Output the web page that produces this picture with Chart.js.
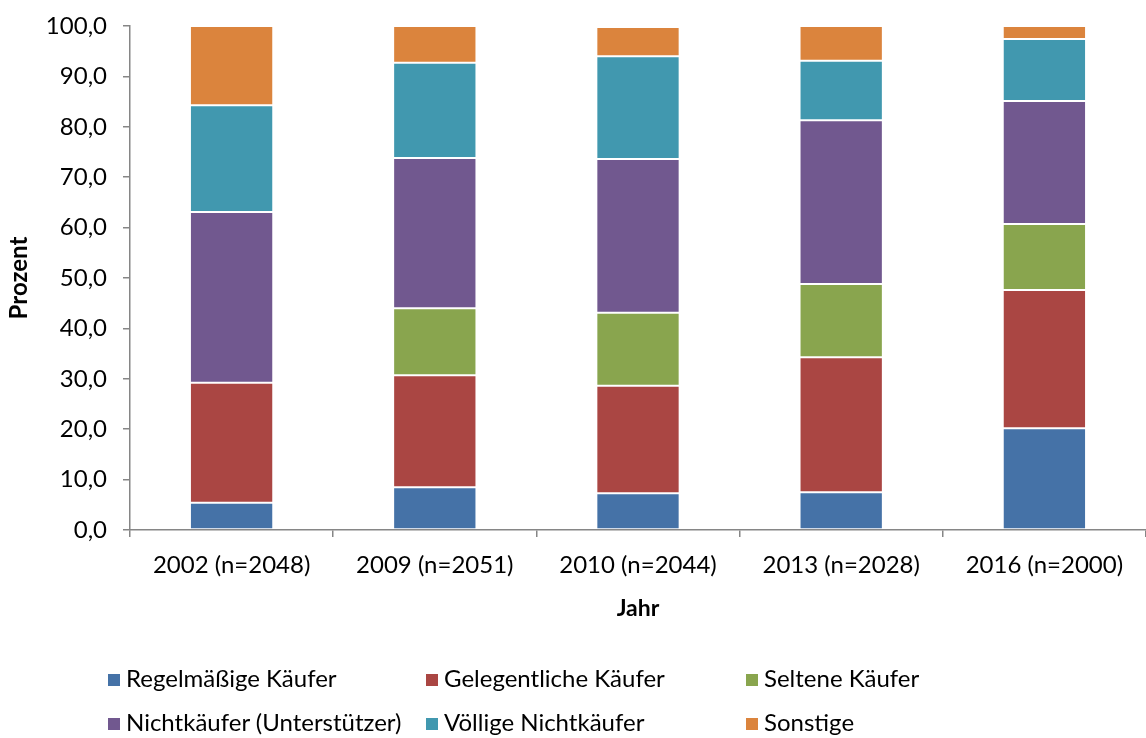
<!DOCTYPE html>
<html>
<head>
<meta charset="utf-8">
<script src="https://cdn.jsdelivr.net/npm/chart.js@4"></script>
<style>
  body { margin: 0; background: #fff; font-family: Lato, "Open Sans", sans-serif; }
  #wrap { position: relative; width: 1146px; height: 738px; }
  #chart-box { position: absolute; left: 0; top: 0; width: 1146px; height: 640px; }
  #legend { position: absolute; left: 0; top: 0; width: 1146px; height: 738px; pointer-events: none; }
  .item { position: absolute; font-size: 24px; color: #000; white-space: nowrap; line-height: 28px; }
  .item span.box { display: inline-block; width: 12px; height: 12px; margin-right: 6px; vertical-align: 1px; }
</style>
</head>
<body>
<div id="wrap">
  <div id="chart-box"><canvas id="kaeufer-chart"></canvas></div>
  <div id="legend"></div>
</div>
<script>
const years = ["2002 (n=2048)", "2009 (n=2051)", "2010 (n=2044)", "2013 (n=2028)", "2016 (n=2000)"];

const regelmaessig = [5.4, 8.5, 7.3, 7.5, 20.2];
const gelegentlich = [23.8, 22.2, 21.3, 26.8, 27.4];
const selten = [0.0, 13.3, 14.5, 14.5, 13.1];
const unterstuetzer = [33.9, 29.8, 30.5, 32.5, 24.4];
const voelligNicht = [21.2, 18.9, 20.4, 11.8, 12.3];
const sonstige = [15.7, 7.3, 5.8, 6.9, 2.6];

const seriesNames = [
    "Regelmäßige Käufer",
    "Gelegentliche Käufer",
    "Seltene Käufer",
    "Nichtkäufer (Unterstützer)",
    "Völlige Nichtkäufer",
    "Sonstige",
];
const seriesColors = ["#4572A7", "#AA4643", "#89A54E", "#71588F", "#4198AF", "#DB843D"];
const seriesValues = [regelmaessig, gelegentlich, selten, unterstuetzer, voelligNicht, sonstige];

const fontFamily = "Lato, 'Open Sans', sans-serif";
const axisGray = "#868686";

const kaeuferContext = document.getElementById("kaeufer-chart");

const kaeuferData = {
    labels: years,
    datasets: seriesNames.map((name, i) => ({
        label: name,
        data: seriesValues[i],
        backgroundColor: seriesColors[i],
        borderColor: "rgba(255,255,255,0.25)",
        borderWidth: 1,
        borderSkipped: false,
        categoryPercentage: 1.0,
        barPercentage: 0.41,
    })),
};

const kaeuferConfig = {
    type: "bar",
    data: kaeuferData,
    options: {
        responsive: true,
        maintainAspectRatio: false,
        animation: false,
        layout: { padding: { left: 4, right: 0, top: 26, bottom: 16 } },
        plugins: {
            legend: { display: false },
            tooltip: { enabled: false },
        },
        scales: {
            x: {
                stacked: true,
                afterFit: (scale) => {
                    scale.height = 94;
                    scale.paddingLeft = 0;
                    scale.paddingRight = 0;
                },
                grid: {
                    offset: true,
                    drawOnChartArea: false,
                    drawTicks: true,
                    tickLength: 7,
                    color: axisGray,
                    lineWidth: 1.5,
                },
                border: { display: true, color: axisGray, width: 1.5 },
                ticks: {
                    color: "#000",
                    font: { family: fontFamily, size: 24 },
                    padding: 14,
                },
                title: {
                    display: true,
                    text: "Jahr",
                    color: "#000",
                    font: { family: fontFamily, size: 23, weight: "bold" },
                    padding: { top: 4, bottom: 2 },
                },
            },
            y: {
                stacked: true,
                min: 0,
                max: 100,
                afterFit: (scale) => {
                    scale.width = 126;
                    scale.paddingTop = 0;
                    scale.paddingBottom = 0;
                },
                grid: {
                    drawOnChartArea: false,
                    drawTicks: true,
                    tickLength: 7,
                    color: axisGray,
                    lineWidth: 1.5,
                },
                border: { display: true, color: axisGray, width: 1.5 },
                ticks: {
                    stepSize: 10,
                    color: "#000",
                    font: { family: fontFamily, size: 24 },
                    padding: 16,
                    callback: (v) => v.toFixed(1).replace(".", ","),
                },
                title: {
                    display: true,
                    text: "Prozent",
                    color: "#000",
                    font: { family: fontFamily, size: 24, weight: "bold" },
                    padding: { top: 1, bottom: 2 },
                },
            },
        },
    },
};

const kaeuferChart = new Chart(kaeuferContext, kaeuferConfig);

// legend laid out in fixed columns like the original
const legendCols = [108, 426, 746];
const legendRows = [664, 708];
const legendEl = document.getElementById("legend");
kaeuferChart.data.datasets.forEach((ds, i) => {
    const item = document.createElement("div");
    item.className = "item";
    item.style.left = legendCols[i % 3] + "px";
    item.style.top = legendRows[Math.floor(i / 3)] + "px";
    item.innerHTML = '<span class="box" style="background:' + ds.backgroundColor + '"></span>' + ds.label;
    legendEl.appendChild(item);
});
</script>
</body>
</html>
